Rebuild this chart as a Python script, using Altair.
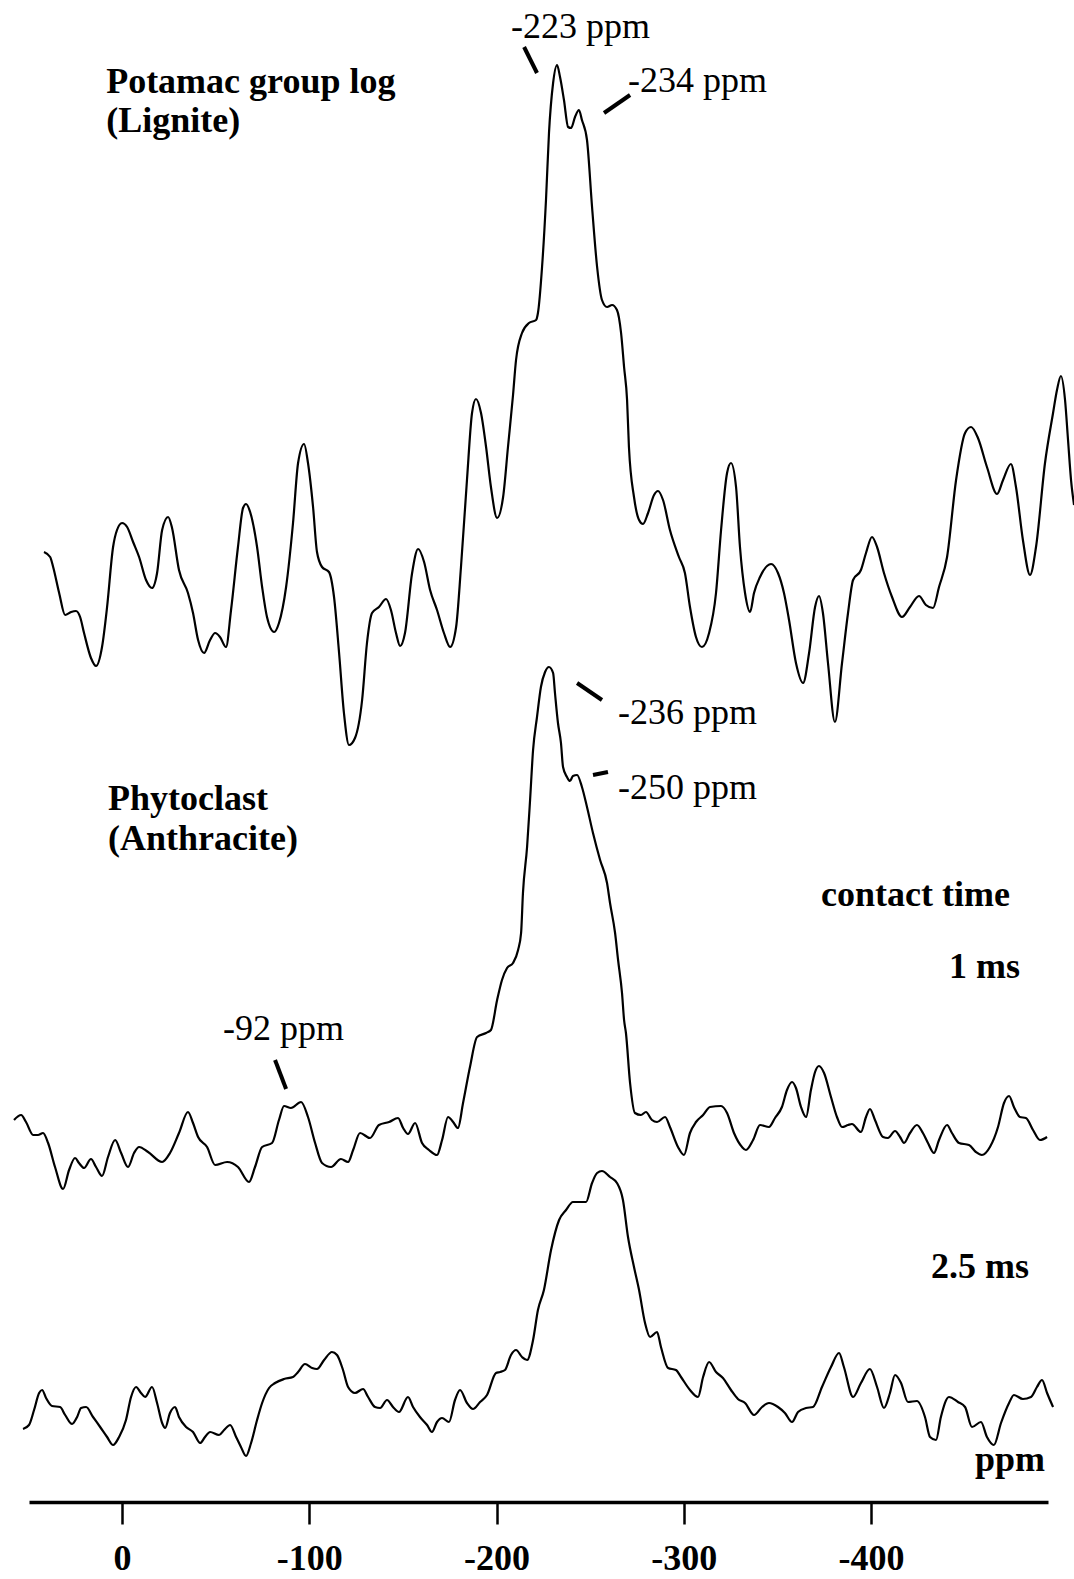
import altair as alt
import pandas as pd

# ---------------- data (ppm, relative intensity in arbitrary units) ----------------
top_ppm = [41.7, 38.4, 36.8, 33.6, 30.4, 27.2, 24.6, 22.4, 20.3, 16.6, 13.9, 10.7, 8.0, 4.8, 2.7, 0.0,
           -2.7, -5.9, -9.1, -12.8, -16.0, -18.7, -21.4, -24.6, -26.7, -30.4, -35.2, -37.9, -40.6, -43.8,
           -47.0, -49.7, -52.3, -55.5, -58.2, -61.9, -64.6, -66.2, -68.4, -72.1, -74.8, -77.4, -81.2,
           -83.8, -87.6, -91.3, -94.0, -97.2, -99.3, -102.0, -104.1, -106.8, -110.5, -113.2, -115.9,
           -118.5, -121.2, -124.4, -128.2, -130.8, -133.5, -137.2, -141.0, -143.6, -146.3, -148.5,
           -151.1, -154.9, -158.1, -161.3, -164.5, -168.2, -171.9, -175.2, -178.4, -181.0, -184.2,
           -186.9, -189.0, -191.7, -194.4, -197.0, -200.3, -203.5, -206.1, -208.8, -210.4, -213.6,
           -217.3, -221.1, -222.1, -224.3, -226.4, -228.0, -230.2, -232.3, -233.9, -236.0, -238.2,
           -239.8, -241.9, -244.0, -245.6, -248.3, -251.0, -253.7, -256.3, -259.0, -261.7, -264.3,
           -266.5, -268.1, -269.7, -270.7, -273.4, -276.1, -278.2, -280.9, -284.1, -286.2, -288.9,
           -292.6, -297.4, -300.6, -303.3, -306.5, -309.7, -313.5, -317.2, -319.9, -323.1, -325.2,
           -327.9, -330.0, -332.7, -335.4, -337.5, -340.7, -346.6, -350.3, -353.5, -356.2, -359.9,
           -363.7, -366.9, -370.1, -372.2, -374.3, -377.0, -380.7, -384.5, -387.7, -390.4, -394.6,
           -397.3, -400.5, -403.2, -406.9, -411.2, -416.5, -420.8, -425.6, -429.3, -433.1, -436.3,
           -440.6, -445.4, -450.2, -453.4, -457.1, -461.9, -467.3, -470.5, -474.7, -477.4, -481.1,
           -484.9, -488.1, -492.9, -497.2, -499.3, -501.4, -503.6, -505.2, -506.8, -508.4]
top_int = [68, 63, 53, 27, 5, 8, 9, 3, -13, -38, -46, -27, 13, 73, 90, 97,
           93, 78, 63, 40, 32, 47, 90, 103, 92, 50, 27, 7, -20, -33,
           -20, -13, -17, -27, 10, 73, 112, 116, 108, 73, 33, 3, -12,
           -3, 33, 97, 157, 176, 157, 113, 68, 53, 48, 23, -33,
           -93, -125, -118, -80, -23, 7, 13, 21, 10, -13, -26,
           -13, 47, 71, 58, 30, 10, -13, -27, -7, 53, 140,
           207, 221, 207, 173, 133, 102, 123, 173, 225, 260, 287,
           297, 300, 307, 353, 420, 487, 537, 555, 543, 520, 493,
           492, 503, 510, 500, 480, 413, 353, 320, 313, 315, 310,
           287, 253, 220, 173, 123, 100, 96, 107, 125, 129, 120,
           90, 63, 47, 13, -17, -27, -13, 27, 90, 147, 157,
           133, 73, 27, 8, 27, 43, 56, 47, 27, 0, -43,
           -63, -33, 13, 24, 7, -43, -102, -43, 7, 40, 50,
           67, 83, 73, 47, 23, 3, 13, 24, 15, 12, 33,
           63, 140, 187, 193, 182, 153, 126, 140, 156, 133, 80,
           45, 73, 157, 207, 230, 244, 220, 180, 140, 115]

mid_ppm = [57.7, 53.9, 51.3, 47.5, 44.9, 42.2, 39.5, 35.8, 31.5, 28.3, 25.1, 23.0, 20.3, 16.6, 13.9,
           10.7, 7.5, 3.7, 0.5, -3.2, -6.4, -9.1, -13.9, -21.4, -25.6, -30.4, -35.2, -37.9, -40.6,
           -45.4, -49.7, -56.1, -61.9, -67.8, -71.0, -74.8, -80.1, -83.8, -86.5, -90.2, -95.6, -99.3,
           -103.1, -106.8, -111.6, -116.9, -120.7, -123.4, -127.1, -132.4, -137.2, -142.6, -147.4,
           -150.1, -152.7, -156.5, -160.2, -163.9, -168.2, -170.9, -174.1, -176.8, -179.4, -182.1,
           -185.8, -189.6, -194.4, -197.0, -200.3, -202.9, -205.6, -208.8, -211.5, -213.1, -214.1,
           -216.3, -217.9, -219.5, -221.6, -223.7, -225.9, -228.0, -230.2, -231.2, -232.8, -234.4,
           -235.5, -237.6, -239.2, -240.8, -243.0, -245.6, -248.3, -251.5, -255.3, -259.0, -260.6,
           -263.3, -264.9, -267.0, -268.1, -269.1, -271.3, -273.9, -277.1, -279.8, -283.0, -285.7,
           -290.0, -292.6, -296.9, -300.1, -303.3, -306.5, -310.3, -314.0, -319.9, -323.1, -326.8,
           -331.1, -333.2, -337.0, -340.7, -345.5, -348.7, -352.4, -355.1, -357.8, -359.9, -362.6,
           -365.3, -367.9, -370.1, -372.2, -374.9, -378.6, -381.8, -384.5, -387.7, -389.8, -394.6,
           -397.3, -399.4, -402.1, -406.4, -409.0, -412.8, -415.5, -417.6, -420.8, -424.5, -427.7,
           -430.4, -433.6, -436.3, -440.6, -443.2, -447.0, -452.3, -456.0, -459.2, -463.5, -467.8,
           -471.0, -473.7, -476.3, -479.5, -482.7, -486.5, -490.2, -494.0]
mid_int = [20, 25, 18, 5, 5, 7, -3, -27, -49, -30, -18, -23, -28, -19, -27,
           -36, -17, 0, -13, -27, -13, -7, -12, -22, -13, 7, 28, 17, 3,
           -7, -25, -22, -27, -42, -27, -7, -3, 20, 34, 32, 38, 23,
           -3, -23, -27, -19, -22, -10, 7, 2, 15, 18, 22,
           12, 6, 17, -3, -10, -15, 0, 23, 18, 12, 37,
           73, 103, 107, 110, 140, 160, 172, 177, 190, 207, 247,
           293, 340, 390, 423, 453, 468, 473, 467, 447, 417, 397,
           373, 363, 359, 364, 365, 353, 333, 307, 280, 257, 237,
           207, 180, 147, 120, 107, 57, 27, 25, 28, 20, 18,
           23, 13, -7, -15, 7, 18, 25, 33, 34, 27, 7,
           -7, -10, 0, 15, 13, 22, 33, 50, 58, 52, 33,
           23, 50, 68, 74, 67, 43, 23, 13, 15, 16, 8,
           23, 31, 20, 3, 2, 9, 3, -3, 7, 15, 7,
           -3, -13, 0, 15, 7, -3, -5, -12, -15, -7, 13,
           37, 44, 33, 23, 22, 10, 0, 3]

bot_ppm = [52.9, 49.7, 47.0, 44.3, 42.7, 40.6, 37.4, 33.1, 30.4, 26.7, 24.0, 21.9, 19.2, 15.5, 11.7,
           8.0, 4.8, 1.6, -2.1, -4.8, -7.5, -10.1, -12.3, -16.0, -18.7, -21.4, -23.0, -25.6, -28.3,
           -30.4, -34.2, -37.9, -41.7, -44.3, -47.0, -51.8, -54.5, -57.7, -60.9, -63.5, -66.2, -68.9,
           -72.1, -74.8, -78.5, -81.7, -86.5, -91.3, -94.0, -97.7, -101.5, -104.1, -107.9, -112.1,
           -114.8, -118.0, -120.7, -124.4, -128.7, -131.4, -135.1, -137.8, -141.5, -144.7, -147.9,
           -152.7, -155.4, -159.1, -162.9, -165.5, -168.2, -170.9, -174.6, -177.8, -180.5, -184.2,
           -187.4, -191.2, -194.9, -199.7, -201.9, -204.5, -207.7, -210.4, -213.6, -216.3, -219.5,
           -222.1, -225.3, -229.1, -233.4, -237.1, -240.8, -244.0, -247.8, -251.0, -253.7, -256.3,
           -260.6, -264.3, -267.5, -270.2, -273.4, -276.1, -279.3, -282.0, -285.7, -287.8, -291.6,
           -295.8, -298.5, -303.3, -307.6, -310.3, -313.5, -317.2, -320.9, -325.2, -328.9, -332.7,
           -337.5, -341.8, -345.5, -350.3, -354.0, -357.8, -361.0, -365.3, -369.0, -373.8, -378.6,
           -382.9, -385.5, -390.4, -394.6, -399.4, -403.2, -406.9, -410.1, -412.8, -416.0, -419.7,
           -424.5, -428.8, -431.5, -434.7, -437.3, -441.6, -446.4, -450.2, -453.9, -458.7, -461.9,
           -465.6, -469.4, -473.7, -476.3, -481.1, -485.4, -488.6, -491.3, -494.0, -497.2]
bot_int = [-29, -25, -10, 7, 10, 2, -6, -7, -15, -24, -17, -8, -7, -17, -27,
           -37, -45, -37, -20, 3, 13, 7, 3, 13, -3, -23, -28, -13, -7,
           -17, -27, -32, -43, -37, -32, -35, -30, -25, -37, -47, -56, -43,
           -20, -3, 12, 17, 21, 23, 28, 36, 32, 31, 40, 48,
           45, 30, 13, 7, 11, 3, -7, -8, 0, -7, -12,
           3, -7, -17, -25, -32, -22, -18, -22, 0, 10, -3,
           -9, -2, 5, 27, 28, 30, 45, 50, 43, 40, 60,
           90, 110, 150, 180, 190, 198, 198, 198, 217, 227, 229,
           223, 217, 200, 163, 133, 110, 77, 63, 68, 53, 32,
           30, 23, 10, 3, 23, 38, 28, 22, 10, 1, -3,
           -15, -7, -3, -7, -13, -22, -12, -8, -7, 13, 33,
           47, 33, 3, 17, 31, 13, -8, 7, 25, 17, -2,
           -1, -17, -37, -40, -17, 3, -2, -7, -27, -22, -37,
           -45, -23, -3, 5, 1, 3, 13, 20, 7, -7]

series_names = ["Potamac group log (Lignite)", "Phytoclast 1 ms", "Phytoclast 2.5 ms"]
series_offsets = [882, 362, 102]  # vertical stacking offsets (arbitrary units)

tick_values = [0, -100, -200, -300, -400]

# annotations: text, ppm, height
bold_left_text = ["Potamac group log", "(Lignite)", "Phytoclast", "(Anthracite)", "contact time"]
bold_left_ppm = [8.5, 8.5, 7.5, 7.5, -373.3]
bold_left_h = [1409, 1370, 692, 652, 596]

bold_right_text = ["1 ms", "2.5 ms", "ppm"]
bold_right_ppm = [-479.5, -484.3, -492.9]
bold_right_h = [524, 224, 31]

peak_text = ["-223 ppm", "-234 ppm", "-236 ppm", "-250 ppm", "-92 ppm"]
peak_ppm = [-207.7, -270.2, -264.9, -264.9, -53.9]
peak_h = [1464, 1410, 778, 703, 462]

lead_ppm1 = [-214.7, -257.4, -243.0, -251.5, -81.7]
lead_h1 = [1455, 1389, 819, 727, 442]
lead_ppm2 = [-221.6, -271.3, -256.3, -259.5, -87.6]
lead_h2 = [1429, 1407, 802, 730, 413]

# ---------------- build tables ----------------
rows = []
for name, off, xs_, ys_ in zip(series_names, series_offsets,
                                [top_ppm, mid_ppm, bot_ppm], [top_int, mid_int, bot_int]):
    for i, (p, v) in enumerate(zip(xs_, ys_)):
        rows.append({"series": name, "ppm": p, "h": off + v, "i": i})
spec_df = pd.DataFrame(rows)

FONT = "Liberation Serif"
X_DOMAIN = [49.7, -494.5]
Y_DOMAIN = [0, 1502]

xs = alt.Scale(domain=X_DOMAIN, nice=False, zero=False)
ys = alt.Scale(domain=Y_DOMAIN, nice=False, zero=False)

x_axis = alt.Axis(values=tick_values, title=None, grid=False, domainColor="black", domainWidth=3.5,
                  tickColor="black", tickWidth=2.5, tickSize=22, labelFont=FONT, labelFontSize=36,
                  labelFontWeight="bold", labelColor="black", labelPadding=17, labelFlush=False,
                  labelOverlap=False, labelExpr="'' + datum.value")

lines = alt.Chart(spec_df).mark_line(color="black", strokeWidth=2.2, interpolate="monotone").encode(
    x=alt.X("ppm:Q", scale=xs, axis=x_axis),
    y=alt.Y("h:Q", scale=ys, axis=None),
    detail="series:N",
    order="i:Q",
)

def text_layer(texts, ppms, hs, align, weight, size):
    df = pd.DataFrame({"t": texts, "ppm": ppms, "h": hs})
    return alt.Chart(df).mark_text(align=align, baseline="alphabetic", font=FONT, fontSize=size,
                                   fontWeight=weight, color="black").encode(
        x=alt.X("ppm:Q", scale=xs), y=alt.Y("h:Q", scale=ys), text="t:N")

t1 = text_layer(bold_left_text, bold_left_ppm, bold_left_h, "left", "bold", 36)
t2 = text_layer(bold_right_text, bold_right_ppm, bold_right_h, "right", "bold", 36)
t3 = text_layer(peak_text, peak_ppm, peak_h, "left", "normal", 36)

lead_df = pd.DataFrame({"p1": lead_ppm1, "h1": lead_h1, "p2": lead_ppm2, "h2": lead_h2})
leads = alt.Chart(lead_df).mark_rule(color="black", strokeWidth=4).encode(
    x=alt.X("p1:Q", scale=xs), x2="p2:Q", y=alt.Y("h1:Q", scale=ys), y2="h2:Q")

chart = alt.layer(lines, leads, t1, t2, t3).properties(
    width=1019, height=1502,
    autosize=alt.AutoSizeParams(type="none"),
    padding={"left": 29, "right": 26, "top": 0, "bottom": 77},
    background="white",
).configure_view(strokeWidth=0)

chart.save("out.html", embed_options={"renderer": "svg", "actions": False})
